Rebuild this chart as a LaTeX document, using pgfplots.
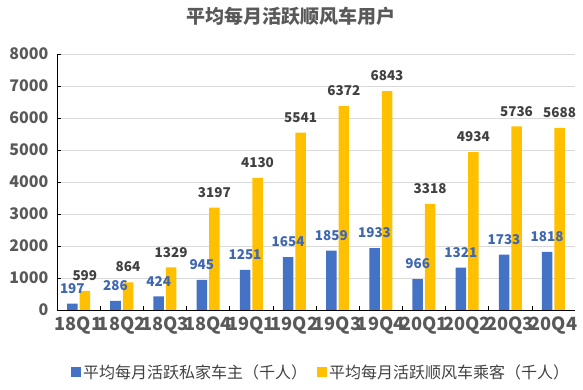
\documentclass[border=0pt]{standalone}
\usepackage{pgfplots}
\pgfplotsset{compat=1.18}
\usepackage{fontspec}
\setmainfont{Noto Sans CJK SC}
\definecolor{cblue}{HTML}{4472C4}
\definecolor{cgold}{HTML}{FFC000}
\definecolor{tgray}{HTML}{595959}
\definecolor{lblue}{HTML}{3F67B0}
\definecolor{lgray}{HTML}{404040}
\begin{document}
\begin{tikzpicture}
\path[use as bounding box] (-57pt,-80pt) rectangle (526pt,310pt);
\begin{axis}[
  scale only axis,
  width=518pt, height=256pt,
  xmin=-0.5, xmax=11.5,
  ymin=0, ymax=8000,
  ybar=2pt, bar width=10.5pt,
  xtick={0,...,11},
  xticklabels={18Q1,18Q2,18Q3,18Q4,19Q1,19Q2,19Q3,19Q4,20Q1,20Q2,20Q3,20Q4},
  minor x tick num=1,
  major x tick style={draw=none},
  minor x tick style={black},
  minor tick length=4pt,
  major tick length=4pt,
  tick align=inside,
  ytick={0,1000,...,8000},
  ymajorgrids,
  grid style={draw=black!15, line width=0.6pt},
  axis lines*=left,
  axis line style={-, black, line width=0.8pt},
  tick style={black, line width=0.6pt},
  /pgf/number format/assume math mode=true,
  /pgf/number format/1000 sep={},
  scaled y ticks=false,
  ticklabel style={font=\bfseries\fontsize{16}{16}\selectfont, text=tgray},
  yticklabel style={xshift=-5pt},
  xticklabel style={font=\bfseries\fontsize{18.2}{18.2}\selectfont, text=tgray, yshift=-3.5pt},
  title={平均每月活跃顺风车用户},
  title style={at={(0.4517,1.125)}, anchor=center, font=\bfseries\fontsize{19}{19}\selectfont, text=tgray},
  nodes near coords,
  every node near coord/.append style={anchor=south, inner sep=0pt, yshift=10pt, font=\bfseries\fontsize{13.5}{13.5}\selectfont},
  legend style={at={(0.51,-0.242)}, anchor=center, draw=none, fill=none,
    legend columns=2, font=\fontsize{16}{16}\selectfont, text=lgray,
    /tikz/every even column/.append style={column sep=8pt}},
  legend image code/.code={\fill[#1] (0pt,-5pt) rectangle (10pt,5pt);},
  clip=false,
]
\addplot[fill=cblue, draw=none, every node near coord/.append style={text=lblue}] coordinates {
(0,197) (1,286) (2,424) (3,945) (4,1251) (5,1654) (6,1859) (7,1933) (8,966) (9,1321) (10,1733) (11,1818)};
\addplot[fill=cgold, draw=none, every node near coord/.append style={text=lgray}] coordinates {
(0,599) (1,864) (2,1329) (3,3197) (4,4130) (5,5541) (6,6372) (7,6843) (8,3318) (9,4934) (10,5736) (11,5688)};
\legend{平均每月活跃私家车主（千人）,平均每月活跃顺风车乘客（千人）}
\end{axis}
\end{tikzpicture}
\end{document}
